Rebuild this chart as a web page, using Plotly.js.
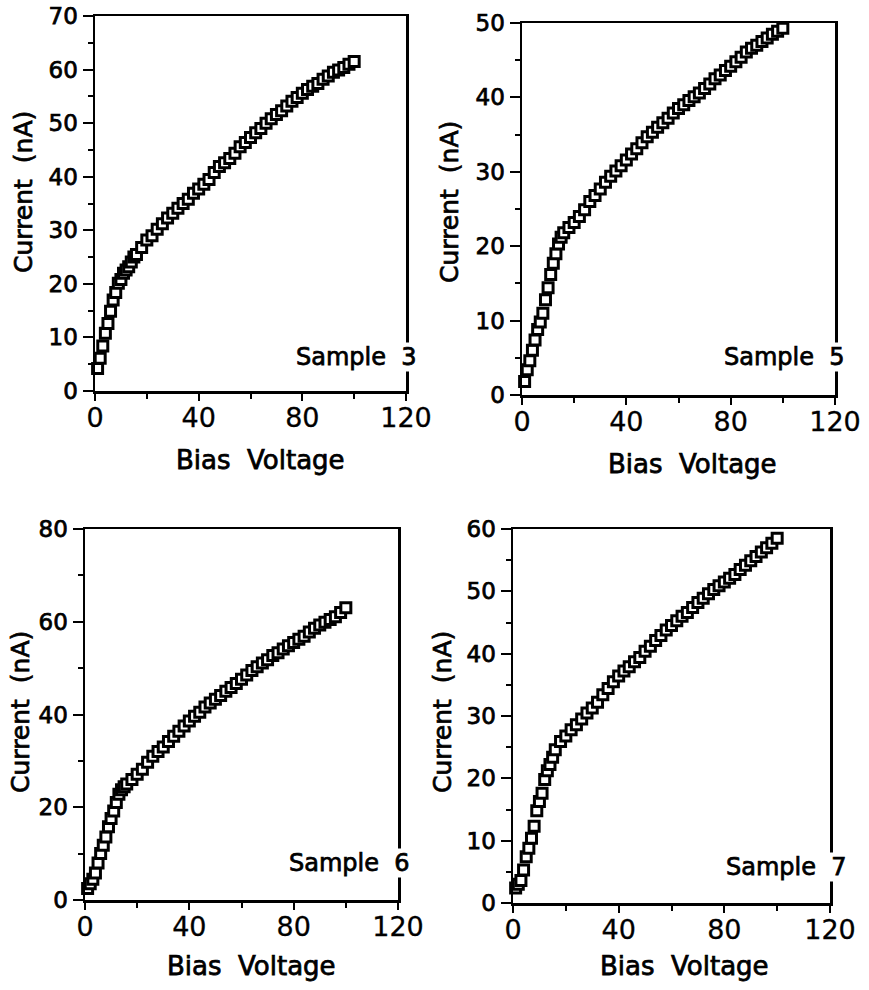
<!DOCTYPE html>
<html>
<head>
<meta charset="utf-8">
<script src="https://cdn.plot.ly/plotly-3.0.1.min.js"></script>
<style>
html,body{margin:0;padding:0;background:#fff;}
#chart{width:869px;height:990px;}
.yaxislayer-above text, .annotation-text { stroke: black; stroke-width: 0.75px; paint-order: stroke; }
.xaxislayer-above text { stroke: black; stroke-width: 0.3px; }
</style>
</head>
<body>
<div id="chart"></div>
<script>
// Bias voltage sample points (V)
const biasVoltage = [1,2,3,4,5,6,7,8,9,10,11,12,13,14,15,16,18,20,22,24,26,28,30,32,34,36,38,40,42,44,46,48,50,52,54,56,58,60,62,64,66,68,70,72,74,76,78,80,82,84,86,88,90,92,94,96,98,100];

// Current (nA)
const sample3 = [4.2,6.1,8.4,10.8,12.6,14.9,17.0,18.4,20.1,20.8,22.0,22.6,23.2,24.1,25.0,25.5,26.8,28.2,29.0,30.2,31.2,32.3,33.2,34.1,35.0,35.8,36.9,37.7,38.6,39.5,40.8,41.9,42.6,43.4,44.4,45.6,46.4,47.3,48.2,49.0,50.0,50.8,51.6,52.3,53.2,54.1,54.8,55.6,56.3,56.9,57.4,58.2,58.8,59.5,59.9,60.4,61.0,61.5];
const sample5 = [1.8,3.4,4.6,6.0,7.4,8.8,9.8,11.0,12.8,14.4,16.2,17.7,19.0,20.3,21.2,21.8,22.5,23.2,24.0,24.9,26.0,26.8,27.7,28.6,29.4,30.1,30.8,31.6,32.4,33.1,33.9,34.7,35.3,36.0,36.6,37.2,37.9,38.5,39.0,39.6,40.1,40.6,41.2,41.8,42.5,43.0,43.6,44.2,44.8,45.4,46.1,46.6,47.0,47.5,48.0,48.5,48.9,49.3];
const sample6 = [2.5,3.5,4.5,5.8,8.0,10.0,11.8,13.6,15.8,17.6,19.2,21.0,22.8,23.8,24.4,25.0,26.0,27.1,28.2,29.7,31.0,32.0,33.0,34.2,35.3,36.4,37.5,38.6,39.6,40.5,41.6,42.5,43.3,44.1,45.0,45.8,46.7,47.6,48.5,49.5,50.3,51.1,51.8,52.7,53.3,54.1,54.8,55.5,56.2,56.9,57.8,58.6,59.3,59.9,60.5,61.1,62.0,63.0];
const sample7 = [2.4,3.0,3.6,5.3,7.4,8.8,10.4,12.3,14.8,16.3,17.6,19.8,21.2,22.2,23.4,24.6,25.9,26.8,27.8,28.6,29.5,30.5,31.3,32.2,33.4,34.4,35.5,36.4,37.2,37.9,38.7,39.4,40.4,41.2,42.1,42.9,43.8,44.5,45.3,46.0,46.6,47.4,48.2,48.9,49.6,50.3,50.9,51.5,52.1,52.7,53.5,54.2,54.9,55.6,56.3,57.0,57.7,58.5];

const sampleNames = ["Sample  3","Sample  5","Sample  6","Sample  7"];
const yMax = [70, 50, 80, 60];
const xTickVals = [0, 40, 80, 120];
const xTickText = ["0", "40", "80", "120"];
const xTitle = "Bias  Voltage";
const yTitle = "Current  (nA)";

const series = [sample3, sample5, sample6, sample7];

// layout geometry (pixels in the 869x990 page)
const W = 869, H = 990;
const boxes = [
  {l:95,  r:406, t:16,  b:391, ytx:23,  yty:192, xtx:260, xty:460, sx:418, sy:357},
  {l:522, r:835, t:23,  b:395, ytx:450, yty:202, xtx:692, xty:464, sx:846, sy:357},
  {l:85,  r:398, t:529, b:900, ytx:20,  yty:712, xtx:251, xty:966, sx:411, sy:863},
  {l:513, r:830, t:529, b:903, ytx:442, yty:712, xtx:684, xty:966, sx:848, sy:867}
];

const FONT = "DejaVu Sans, Verdana, sans-serif";
const traces = [];
const layout = {
  width: W, height: H,
  margin: {l:0, r:0, t:0, b:0},
  paper_bgcolor: "white",
  plot_bgcolor: "white",
  showlegend: false,
  font: {family: FONT, color: "black"},
  annotations: []
};

series.forEach((ys, i) => {
  const n = i + 1;
  const xa = n === 1 ? "x" : "x" + n;
  const ya = n === 1 ? "y" : "y" + n;
  traces.push({
    type: "scatter", mode: "markers",
    x: biasVoltage, y: ys,
    xaxis: xa, yaxis: ya,
    cliponaxis: false,
    marker: {symbol: "square", size: 10, color: "white", line: {color: "black", width: 3}},
    hoverinfo: "skip"
  });
  const b = boxes[i];
  layout["xaxis" + (n === 1 ? "" : n)] = {
    domain: [b.l / W, b.r / W],
    anchor: ya,
    range: [0, 120],
    tickmode: "array", tickvals: xTickVals, ticktext: xTickText,
    ticks: "outside", ticklen: 7, tickwidth: 2, tickcolor: "black",
    ticklabelstandoff: -6,
    minor: {dtick: 20, ticks: "outside", ticklen: 5, tickwidth: 2, tickcolor: "black"},
    showline: true, linecolor: "black", linewidth: 2.5, mirror: true,
    showgrid: false, zeroline: false,
    tickfont: {family: FONT, size: 27, color: "black"},
    fixedrange: true
  };
  layout["yaxis" + (n === 1 ? "" : n)] = {
    domain: [1 - b.b / H, 1 - b.t / H],
    anchor: xa,
    range: [0, yMax[i]],
    dtick: yMax[i] === 80 ? 20 : 10,
    ticks: "outside", ticklen: 10, tickwidth: 2, tickcolor: "black",
    minor: {dtick: yMax[i] === 80 ? 10 : 5, ticks: "outside", ticklen: 5, tickwidth: 2, tickcolor: "black"},
    showline: true, linecolor: "black", linewidth: 2.5, mirror: true,
    showgrid: false, zeroline: false,
    tickfont: {family: FONT, size: 23, color: "black"},
    fixedrange: true
  };
  layout.annotations.push(
    {xref: "paper", yref: "paper", x: b.ytx / W, y: 1 - b.yty / H, text: yTitle, textangle: -90,
     showarrow: false, xanchor: "center", yanchor: "middle", font: {family: FONT, size: 25, color: "black"}},
    {xref: "paper", yref: "paper", x: b.xtx / W, y: 1 - b.xty / H, text: xTitle,
     showarrow: false, xanchor: "center", yanchor: "middle", font: {family: FONT, size: 26, color: "black"}},
    {xref: "paper", yref: "paper", x: b.sx / W, y: 1 - b.sy / H, text: sampleNames[i],
     showarrow: false, xanchor: "right", yanchor: "middle", bgcolor: "white", borderpad: 0,
     font: {family: FONT, size: 24, color: "black"}}
  );
});

Plotly.newPlot("chart", traces, layout, {staticPlot: true, displayModeBar: false});
</script>
</body>
</html>
